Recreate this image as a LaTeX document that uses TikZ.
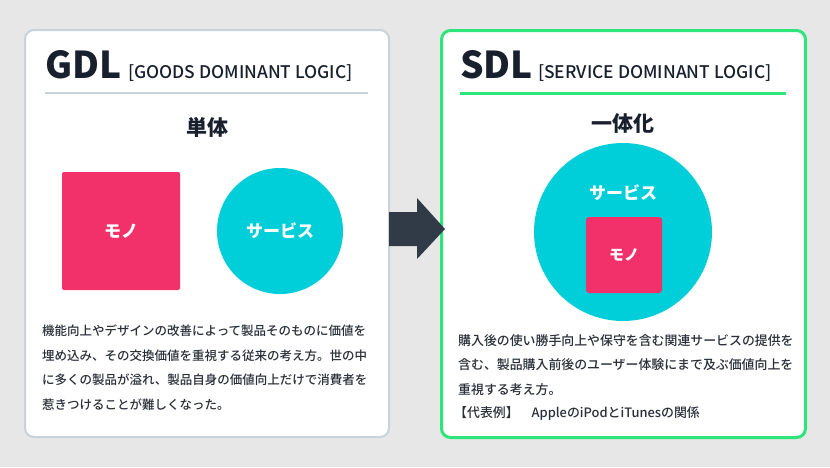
\documentclass[tikz,border=0pt]{standalone}
\usepackage{fontspec}
\setmainfont{Noto Sans CJK JP}
\newfontface\jpmed{Noto Sans CJK JP Medium}
\usetikzlibrary{positioning}
\definecolor{bgcol}{HTML}{E7E7E7}
\definecolor{ink}{HTML}{18202E}
\definecolor{txt}{HTML}{2A2F38}
\definecolor{frame}{HTML}{C9D1D9}
\definecolor{lime}{HTML}{2EE57C}
\definecolor{pinkm}{HTML}{F2306A}
\definecolor{cyans}{HTML}{00CED8}
\definecolor{arrowc}{HTML}{313B48}
\tikzset{
  panel/.style ={rounded corners=9pt, fill=white, line width=2pt, inner sep=0pt,
                 minimum width=364pt, minimum height=407pt},
  big/.style   ={font=\fontsize{37}{37}\selectfont\bfseries, text=ink, inner sep=0pt, anchor=base west},
  sub/.style   ={font=\fontsize{17.4}{17.4}\jpmed, text=ink, inner sep=0pt, anchor=base west},
  head/.style  ={font=\fontsize{21}{21}\selectfont\bfseries, text=ink, inner sep=0pt},
  moji/.style  ={font=\fontsize{17}{17}\selectfont\bfseries, text=white, inner sep=0pt},
  para/.style  ={font=\fontsize{12.5}{24.5}\jpmed, text=txt, align=left, inner sep=0pt,
                 anchor=north west},
}
\begin{document}
\begin{tikzpicture}[x=1pt,y=-1pt]
  \fill[bgcol] (0,0) rectangle (830,467);
  \useasboundingbox (0,0) rectangle (830,467);
  % left panel
  \node[panel, draw=frame] (gdlbox) at (207,233.5) {};
  \node[big] (gdl) at (45,78) {GDL};
  \node[sub] (gdlsub) at (128,78) {[GOODS DOMINANT LOGIC]};
  \draw[frame, line width=2pt] (45,93) -- (368,93);
  \node[head] (tan) at (207,127) {単体};
  \node[fill=pinkm, rounded corners=2pt, minimum size=118pt, inner sep=0pt] (mono) at (121,231) {};
  \node[moji] at (mono) {モノ};
  \node[circle, fill=cyans, minimum size=126pt, inner sep=0pt] (serv) at (280,231) {};
  \node[moji] at (serv) {サービス};
  \node[para] (gdltext) at (42,325) {機能向上やデザインの改善によって製品そのものに価値を\\
    埋め込み、その交換価値を重視する従来の考え方。世の中\\
    に多くの製品が溢れ、製品自身の価値向上だけで消費者を\\
    惹きつけることが難しくなった。};
  % right panel
  \node[panel, draw=lime, line width=3pt] (sdlbox) at (623.5,234) {};
  \node[big] (sdl) at (460,78) {SDL};
  \node[sub] (sdlsub) at (538,78) {[SERVICE DOMINANT LOGIC]};
  \draw[lime, line width=3pt] (460,93) -- (786,93);
  \node[head] (itt) at (623,124) {一体化};
  \node[circle, fill=cyans, minimum size=178pt, inner sep=0pt] (whole) at (623,232) {};
  \node[moji] (wlab) at (623,193) {サービス};
  \node[fill=pinkm, rounded corners=3pt, minimum size=76pt, inner sep=0pt] (inner) at (624,255) {};
  \node[moji, font=\fontsize{15}{15}\selectfont\bfseries] at (inner) {モノ};
  \node[para, font=\fontsize{12.9}{24.5}\jpmed] (sdltext) at (458,334) {購入後の使い勝手向上や保守を含む関連サービスの提供を\\
    含む、製品購入前後のユーザー体験にまで及ぶ価値向上を\\
    重視する考え方。};
  \node[para, font=\fontsize{12.9}{24.5}\jpmed] (rei) at (454,406) {【代表例】\quad AppleのiPodとiTunesの関係};
  % arrow between the panels
  \fill[arrowc] (389,212) -- (417,212) -- (417,198) -- (445,229) -- (417,259)
        -- (417,246) -- (389,246) -- cycle;
\end{tikzpicture}
\end{document}
